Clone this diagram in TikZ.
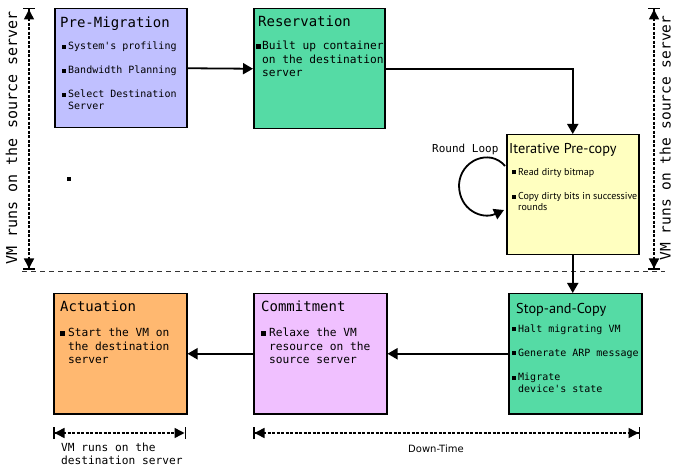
\documentclass[tikz,border=0pt]{standalone}
\usepackage{fontspec}
\setmonofont{DejaVu Sans Mono}
\newfontfamily\humsans{PT Sans}
\newfontfamily\labsans{DejaVu Sans}
\usetikzlibrary{arrows.meta,calc}

\definecolor{premigc}{RGB}{192,192,255}
\definecolor{greenc}{RGB}{85,219,165}
\definecolor{iterc}{RGB}{255,255,192}
\definecolor{commitc}{RGB}{240,192,255}
\definecolor{actuc}{RGB}{255,184,112}

% small square bullet and a top-aligned block of lines
\newcommand\sqb{\rule[0.1em]{0.4em}{0.4em}}
\newcommand\blk[1]{\parbox[t]{220pt}{#1}}

\tikzset{
  box/.style={draw=black, line width=1.5pt, anchor=north west, inner sep=0pt},
  txt/.style={anchor=base west, inner sep=0pt},
  mtitle/.style={txt, font=\ttfamily\fontsize{14}{16}\selectfont},
  htitle/.style={txt, font=\humsans\fontsize{14.3}{16}\selectfont},
  mono10/.style={txt, font=\ttfamily\fontsize{10}{12}\selectfont},
  mono11/.style={txt, font=\ttfamily\fontsize{11.2}{13.3}\selectfont},
  hum9/.style={txt, font=\humsans\fontsize{10}{11}\selectfont},
  conn/.style={line width=1.8pt, -{Triangle[length=10pt,width=11pt]}},
  dimline/.style={line width=1.5pt, dash pattern=on 3pt off 1.5pt,
    {Bar[width=12pt]Triangle[length=10pt,width=10pt]}-{Triangle[length=10pt,width=10pt]Bar[width=12pt]}},
}

\begin{document}
\begin{tikzpicture}[x=1pt,y=-1pt]
\useasboundingbox[fill=white] (0,0) rectangle (673,468);

% separator between source-side and destination-side phases
\coordinate (sepL) at (22,271);
\coordinate (sepR) at (665,271);
\draw[line width=0.9pt, black!80, dash pattern=on 5pt off 4pt] (sepL) -- (sepR);

% phase boxes
\node[box, fill=premigc, minimum width=132pt, minimum height=119pt] (premig) at (54,8) {};
\node[box, fill=greenc,  minimum width=131pt, minimum height=120pt] (reserv) at (253,8) {};
\node[box, fill=iterc,   minimum width=132pt, minimum height=120pt] (iter)   at (506,134) {};
\node[box, fill=greenc,  minimum width=133pt, minimum height=120pt] (stop)   at (508,293) {};
\node[box, fill=commitc, minimum width=133pt, minimum height=120pt] (commit) at (253,293) {};
\node[box, fill=actuc,   minimum width=133pt, minimum height=120pt] (actu)   at (53,293) {};

% Pre-Migration
\node[mtitle] (premigT) at (60,28) {Pre-Migration};
\node[mono10] (premig1) at (62,50) {\blk{\makebox[6pt][l]{\sqb}System's profiling}};
\node[mono10] (premig2) at (62,74) {\blk{\makebox[6pt][l]{\sqb}Bandwidth Planning}};
\node[mono10] (premig3) at (62,98) {\blk{\makebox[6pt][l]{\sqb}Select Destination\\\hspace*{6pt}Server}};

% Reservation
\node[mtitle] (reservT) at (258,27) {Reservation};
\node[mono11] (reserv1) at (256,50) {\blk{\makebox[6pt][l]{\sqb}Built up container\\\hspace*{6pt}on the destination\\\hspace*{6pt}server}};

% Iterative Pre-copy
\node[htitle] (iterT) at (509,154) {Iterative Pre-copy};
\node[hum9] (iter1) at (512,175.5) {\blk{\makebox[6pt][l]{\sqb}Read dirty bitmap}};
\node[hum9] (iter2) at (512,200) {\blk{\makebox[6pt][l]{\sqb}Copy dirty bits in successive\\\hspace*{6pt}rounds}};

% Stop-and-Copy
\node[htitle] (stopT) at (516,313) {Stop-and-Copy};
\node[mono10] (stop1) at (512,332) {\blk{\makebox[6pt][l]{\sqb}Halt migrating VM}};
\node[mono10] (stop2) at (512,356) {\blk{\makebox[6pt][l]{\sqb}Generate ARP message}};
\node[mono10] (stop3) at (512,381) {\blk{\makebox[6pt][l]{\sqb}Migrate\\\hspace*{6pt}device's state}};

% Commitment
\node[mtitle] (commitT) at (261,312) {Commitment};
\node[mono11] (commit1) at (261,337) {\blk{\makebox[8pt][l]{\sqb}Relaxe the VM\\\hspace*{8pt}resource on the\\\hspace*{8pt}source server}};

% Actuation
\node[mtitle] (actuT) at (60,312) {Actuation};
\node[mono11] (actu1) at (60,337) {\blk{\makebox[8pt][l]{\sqb}Start the VM on\\\hspace*{8pt}the destination\\\hspace*{8pt}server}};

% flow between phases
\draw[conn] (premig.east) -- (reserv.west);
\draw[conn] (reserv.east) -| (iter.north);
\draw[conn] (iter.south) -- (iter.south |- stop.north);
\draw[conn] (stop.west) -- (commit.east);
\draw[conn] (commit.west) -- (actu.east);

% round loop on the iterative phase
\coordinate (loopA) at ($(iter.north west)+(-1,32)$);
\coordinate (loopB) at ($(iter.north west)+(-2,76)$);
\draw[conn]
  (loopA) .. controls (490,148) and (460,160) .. (459,185)
          .. controls (459,210) and (482,220) .. (loopB);
\node[txt, font=\ttfamily\fontsize{11}{13}\selectfont] (loopT) at (432,153) {Round Loop};

% marker dot
\node[fill=black, inner sep=0pt, minimum size=3.5pt] (dot) at (69,179) {};

% time spans
\coordinate (srcLtop) at (29,8);   \coordinate (srcLbot) at (29,270);
\coordinate (srcRtop) at (654,8);  \coordinate (srcRbot) at (654,270);
\coordinate (dstL) at (53,433);    \coordinate (dstR) at (186,433);
\coordinate (dtL) at (253,433);    \coordinate (dtR) at (640,433);
\draw[dimline] (srcLtop) -- (srcLbot);
\draw[dimline] (srcRtop) -- (srcRbot);
\draw[dimline] (dstL) -- (dstR);
\draw[dimline] (dtL) -- (dtR);

\node[rotate=90, anchor=base, inner sep=0pt, font=\ttfamily\fontsize{15}{17}\selectfont] (srcTL) at (17,138) {VM runs on the source server};
\node[rotate=90, anchor=base, inner sep=0pt, font=\ttfamily\fontsize{14.5}{17}\selectfont] (srcTR) at (670.5,138) {VM runs on the source server};
\node[mono11] (dstT) at (61,451) {\blk{VM runs on the\\destination server}};
\node[txt, font=\labsans\fontsize{10}{12}\selectfont] (dtT) at (408,452) {Down-Time};
\end{tikzpicture}
\end{document}
